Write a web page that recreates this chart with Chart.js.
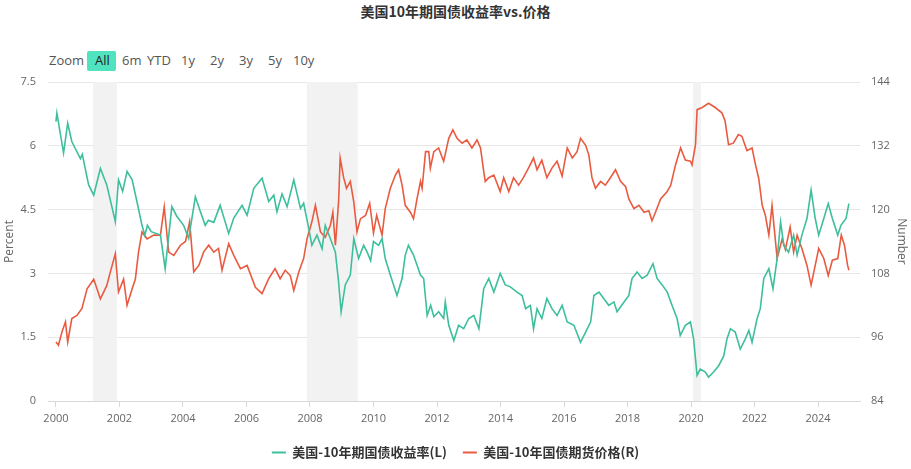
<!DOCTYPE html>
<html><head><meta charset="utf-8">
<script src="https://cdn.jsdelivr.net/npm/chart.js@4/dist/chart.umd.min.js"></script>
<style>
html,body{margin:0;padding:0;background:#fff;}
#wrap{position:relative;width:911px;height:469px;overflow:hidden;}
#title{position:absolute;left:0;top:1px;width:911px;text-align:center;font:bold 14px "Noto Sans CJK SC",sans-serif;color:#333;line-height:20px;}
.zb{position:absolute;top:51px;height:20px;line-height:20px;font:13px "Open Sans","Noto Sans",sans-serif;color:#555;}
#allbtn{position:absolute;left:87px;top:51px;width:29px;height:20px;background:#4fe3c0;border-radius:2px;}
canvas{position:absolute;left:0;top:0;}
</style></head>
<body><div id="wrap">
<div id="allbtn"></div>
<div id="title">美国10年期国债收益率vs.价格</div>
<span class="zb" style="left:49px">Zoom</span>
<span class="zb" style="left:95px;color:#222">All</span>
<span class="zb" style="left:122px">6m</span>
<span class="zb" style="left:147px">YTD</span>
<span class="zb" style="left:181px">1y</span>
<span class="zb" style="left:210px">2y</span>
<span class="zb" style="left:239px">3y</span>
<span class="zb" style="left:268px">5y</span>
<span class="zb" style="left:293px">10y</span>
<canvas id="c" width="911" height="469"></canvas>
</div>
<script>
const seriesNames = ["美国-10年期国债收益率(L)", "美国-10年国债期货价格(R)"];
const xTickYears = [2000,2002,2004,2006,2008,2010,2012,2014,2016,2018,2020,2022,2024];
const leftTicks = [0,1.5,3,4.5,6,7.5];
const rightTicks = [84,96,108,120,132,144];
const shadedPeriods = [[2001.17,2001.92],[2007.9,2009.5],[2020.06,2020.31]];

const yieldDates = [2000.00,2000.03,2000.24,2000.37,2000.50,2000.77,2000.83,2001.03,2001.19,2001.40,2001.60,2001.87,2001.97,2002.10,2002.24,2002.40,2002.55,2002.71,2002.80,2002.88,2003.00,2003.29,2003.44,2003.65,2003.80,2004.02,2004.18,2004.39,2004.55,2004.70,2004.80,2004.97,2005.17,2005.44,2005.60,2005.86,2006.02,2006.23,2006.49,2006.70,2006.86,2006.96,2007.12,2007.28,2007.49,2007.70,2007.80,2007.96,2008.06,2008.22,2008.38,2008.48,2008.64,2008.80,2008.90,2008.98,2009.11,2009.27,2009.38,2009.53,2009.69,2009.80,2009.91,2010.00,2010.16,2010.27,2010.37,2010.53,2010.74,2010.90,2011.00,2011.10,2011.26,2011.48,2011.58,2011.69,2011.80,2011.90,2012.05,2012.21,2012.26,2012.37,2012.53,2012.68,2012.84,2013.00,2013.16,2013.32,2013.47,2013.63,2013.79,2013.99,2014.15,2014.30,2014.52,2014.68,2014.79,2014.94,2015.04,2015.15,2015.30,2015.46,2015.62,2015.78,2015.94,2016.10,2016.31,2016.52,2016.68,2016.84,2016.94,2017.10,2017.25,2017.41,2017.57,2017.67,2017.93,2018.04,2018.14,2018.30,2018.46,2018.62,2018.80,2018.93,2019.09,2019.25,2019.40,2019.56,2019.66,2019.82,2019.98,2020.08,2020.19,2020.29,2020.45,2020.55,2020.71,2020.87,2021.03,2021.13,2021.24,2021.39,2021.55,2021.71,2021.82,2021.92,2022.08,2022.18,2022.29,2022.45,2022.58,2022.71,2022.82,2022.92,2023.07,2023.23,2023.34,2023.49,2023.65,2023.78,2023.91,2024.02,2024.18,2024.32,2024.45,2024.62,2024.72,2024.88,2024.97];
const yieldValues = [6.57,6.77,5.83,6.53,6.10,5.70,5.80,5.08,4.84,5.47,5.08,4.22,5.20,4.93,5.40,5.20,4.69,4.13,3.90,4.13,3.98,3.90,3.11,4.57,4.35,4.13,3.82,4.80,4.45,4.13,4.25,4.20,4.60,3.94,4.30,4.60,4.37,5.00,5.24,4.69,4.84,4.45,4.87,4.57,5.20,4.53,4.65,4.06,3.66,3.90,3.58,4.13,3.82,3.50,2.80,2.10,2.73,2.96,3.82,3.35,3.66,3.50,3.30,3.75,3.66,3.82,3.35,2.96,2.48,2.88,3.43,3.66,3.43,2.96,2.88,2.01,2.25,1.98,2.10,1.94,2.33,1.78,1.42,1.78,1.70,1.94,2.01,1.70,2.64,2.88,2.56,3.00,2.73,2.69,2.56,2.48,2.17,2.25,1.70,2.17,1.94,2.41,2.17,2.01,2.25,1.86,1.78,1.38,1.62,1.86,2.48,2.56,2.41,2.25,2.33,2.10,2.37,2.48,2.88,3.03,2.88,2.96,3.23,2.88,2.73,2.56,2.25,1.94,1.54,1.78,1.86,1.46,0.60,0.75,0.68,0.56,0.68,0.83,1.06,1.46,1.70,1.62,1.22,1.46,1.66,1.38,1.94,2.17,2.88,3.11,2.64,3.35,4.21,3.66,3.50,3.90,3.43,3.90,4.29,4.96,4.29,3.90,4.29,4.64,4.29,3.90,4.13,4.29,4.64];

const priceDates = [2000.00,2000.08,2000.19,2000.30,2000.37,2000.50,2000.66,2000.82,2000.98,2001.19,2001.40,2001.60,2001.71,2001.87,2001.97,2002.13,2002.24,2002.40,2002.50,2002.60,2002.71,2002.87,2003.08,2003.29,2003.41,2003.55,2003.71,2003.92,2004.08,2004.21,2004.34,2004.50,2004.65,2004.81,2004.97,2005.12,2005.23,2005.44,2005.60,2005.81,2006.02,2006.28,2006.49,2006.70,2006.90,2007.06,2007.22,2007.38,2007.49,2007.65,2007.80,2007.91,2008.06,2008.17,2008.33,2008.48,2008.64,2008.72,2008.80,2008.90,2008.95,2009.06,2009.15,2009.27,2009.38,2009.48,2009.59,2009.75,2009.88,2010.00,2010.10,2010.27,2010.37,2010.53,2010.69,2010.79,2010.90,2011.00,2011.16,2011.26,2011.37,2011.48,2011.53,2011.64,2011.74,2011.79,2011.90,2012.05,2012.21,2012.37,2012.50,2012.63,2012.79,2012.94,2013.10,2013.26,2013.37,2013.47,2013.52,2013.63,2013.79,2013.99,2014.10,2014.26,2014.41,2014.57,2014.72,2014.88,2015.04,2015.15,2015.30,2015.46,2015.62,2015.78,2015.94,2016.10,2016.26,2016.41,2016.52,2016.68,2016.78,2016.88,2016.99,2017.15,2017.30,2017.46,2017.62,2017.78,2017.94,2018.04,2018.20,2018.36,2018.52,2018.67,2018.77,2018.88,2019.04,2019.25,2019.36,2019.51,2019.67,2019.82,2019.98,2020.03,2020.14,2020.19,2020.35,2020.55,2020.76,2020.97,2021.07,2021.18,2021.33,2021.49,2021.60,2021.76,2021.92,2022.03,2022.13,2022.24,2022.34,2022.45,2022.55,2022.63,2022.71,2022.87,2022.97,2023.12,2023.23,2023.34,2023.49,2023.65,2023.78,2023.91,2024.02,2024.18,2024.32,2024.45,2024.62,2024.73,2024.83,2024.93,2024.97];
const priceValues = [95.1,94.5,97.0,98.9,95.1,99.5,100.1,101.4,105.1,106.9,103.2,105.7,108.2,111.7,104.5,106.9,102.0,105.1,106.9,112.0,115.8,114.5,115.2,115.2,120.5,112.0,111.4,113.3,114.0,117.7,108.3,109.5,112.0,113.3,112.0,112.7,108.6,113.6,111.4,108.9,109.5,105.4,104.2,107.0,108.9,107.0,108.6,107.6,104.8,108.3,110.8,114.6,117.7,120.8,115.8,114.8,117.0,119.5,113.3,121.4,129.7,126.0,124.0,125.3,121.4,115.8,118.3,118.9,121.2,115.6,118.9,115.2,120.2,124.0,126.5,127.5,124.6,120.8,119.5,118.3,122.0,125.3,124.0,130.9,130.9,127.8,130.9,131.6,129.1,133.4,135.0,133.4,132.5,133.1,131.6,133.1,131.6,127.2,125.3,126.0,126.5,123.4,126.0,123.4,126.0,124.6,126.0,127.8,129.7,127.5,129.3,126.0,127.8,129.1,126.3,131.6,129.7,130.9,133.4,132.1,130.3,126.0,124.0,125.3,124.6,126.0,127.5,125.3,124.3,122.0,120.2,120.8,119.5,119.8,117.9,119.5,122.0,123.4,124.6,128.4,131.6,129.3,129.1,128.4,132.2,138.8,139.2,140.0,139.2,138.2,136.7,132.2,132.5,134.1,133.8,131.1,131.6,128.4,125.9,120.8,118.9,115.2,120.8,115.8,110.8,114.5,112.5,116.7,112.0,115.2,112.7,109.5,105.8,109.5,112.7,110.8,107.6,110.5,110.8,115.2,113.3,109.5,108.6];

const GREEN = '#3dbf9d', RED = '#e95b40';
const pts = (xs, ys) => xs.map((x, i) => ({x: x, y: ys[i]}));

const shadePlugin = {
  id: 'shade',
  beforeDatasetsDraw(chart) {
    const {ctx, chartArea, scales} = chart;
    ctx.save();
    ctx.fillStyle = '#f2f2f2';
    shadedPeriods.forEach(([a, b]) => {
      const x1 = scales.x.getPixelForValue(a), x2 = scales.x.getPixelForValue(b);
      ctx.fillRect(x1, chartArea.top, x2 - x1, chartArea.bottom - chartArea.top);
    });
    ctx.restore();
  }
};

const tickFont = {family: '"Open Sans","Noto Sans",sans-serif', size: 11};
new Chart(document.getElementById('c'), {
  type: 'line',
  data: {
    datasets: [
      {label: seriesNames[0], data: pts(yieldDates, yieldValues), yAxisID: 'y', borderColor: GREEN, backgroundColor: GREEN, borderWidth: 1.6, pointRadius: 0, tension: 0},
      {label: seriesNames[1], data: pts(priceDates, priceValues), yAxisID: 'y2', borderColor: RED, backgroundColor: RED, borderWidth: 1.6, pointRadius: 0, tension: 0}
    ]
  },
  options: {
    responsive: false, animation: false, parsing: true,
    layout: {padding: {top: 82, bottom: 0, left: 0, right: 0}},
    plugins: {
      tooltip: {enabled: false},
      title: {display: false},
      legend: {
        position: 'bottom',
        labels: {
          color: '#333', boxWidth: 14, boxHeight: 2, padding: 16,
          font: {family: '"Noto Sans CJK SC",sans-serif', size: 13, weight: 'bold'},
          generateLabels(chart) {
            return chart.data.datasets.map((d, i) => ({text: d.label, fillStyle: d.borderColor, strokeStyle: d.borderColor, lineWidth: 0, datasetIndex: i, hidden: false, fontColor: '#333'}));
          }
        }
      }
    },
    scales: {
      x: {
        type: 'linear', min: 1999.75, max: 2025.32,
        afterBuildTicks(s) { s.ticks = xTickYears.map(v => ({value: v})); },
        afterFit(s) { s.height = 29; },
        ticks: {callback: v => String(v), color: '#666', font: tickFont, maxRotation: 0, padding: 5},
        grid: {drawOnChartArea: false, drawTicks: true, tickLength: 6, color: '#d8d8d8'},
        border: {color: '#d8d8d8'}
      },
      y: {
        position: 'left', min: 0, max: 7.5,
        afterBuildTicks(s) { s.ticks = leftTicks.map(v => ({value: v})); },
        afterFit(s) { s.width = 48; },
        ticks: {callback: v => String(v), color: '#666', font: tickFont, padding: 12},
        grid: {color: '#e6e6e6', drawTicks: false},
        border: {display: false},
        title: {display: true, text: 'Percent', color: '#666', font: {family: '"Open Sans","Noto Sans",sans-serif', size: 12}, padding: {top: 2, bottom: 2}}
      },
      y2: {
        position: 'right', min: 84, max: 144,
        afterBuildTicks(s) { s.ticks = rightTicks.map(v => ({value: v})); },
        afterFit(s) { s.width = 51; },
        ticks: {callback: v => String(v), color: '#666', font: tickFont, padding: 11},
        grid: {drawOnChartArea: false, drawTicks: false},
        border: {display: false},
        title: {display: true, text: 'Number', color: '#666', font: {family: '"Open Sans","Noto Sans",sans-serif', size: 12}, padding: {top: 2, bottom: 2}}
      }
    }
  },
  plugins: [shadePlugin]
});
</script>
</body></html>
